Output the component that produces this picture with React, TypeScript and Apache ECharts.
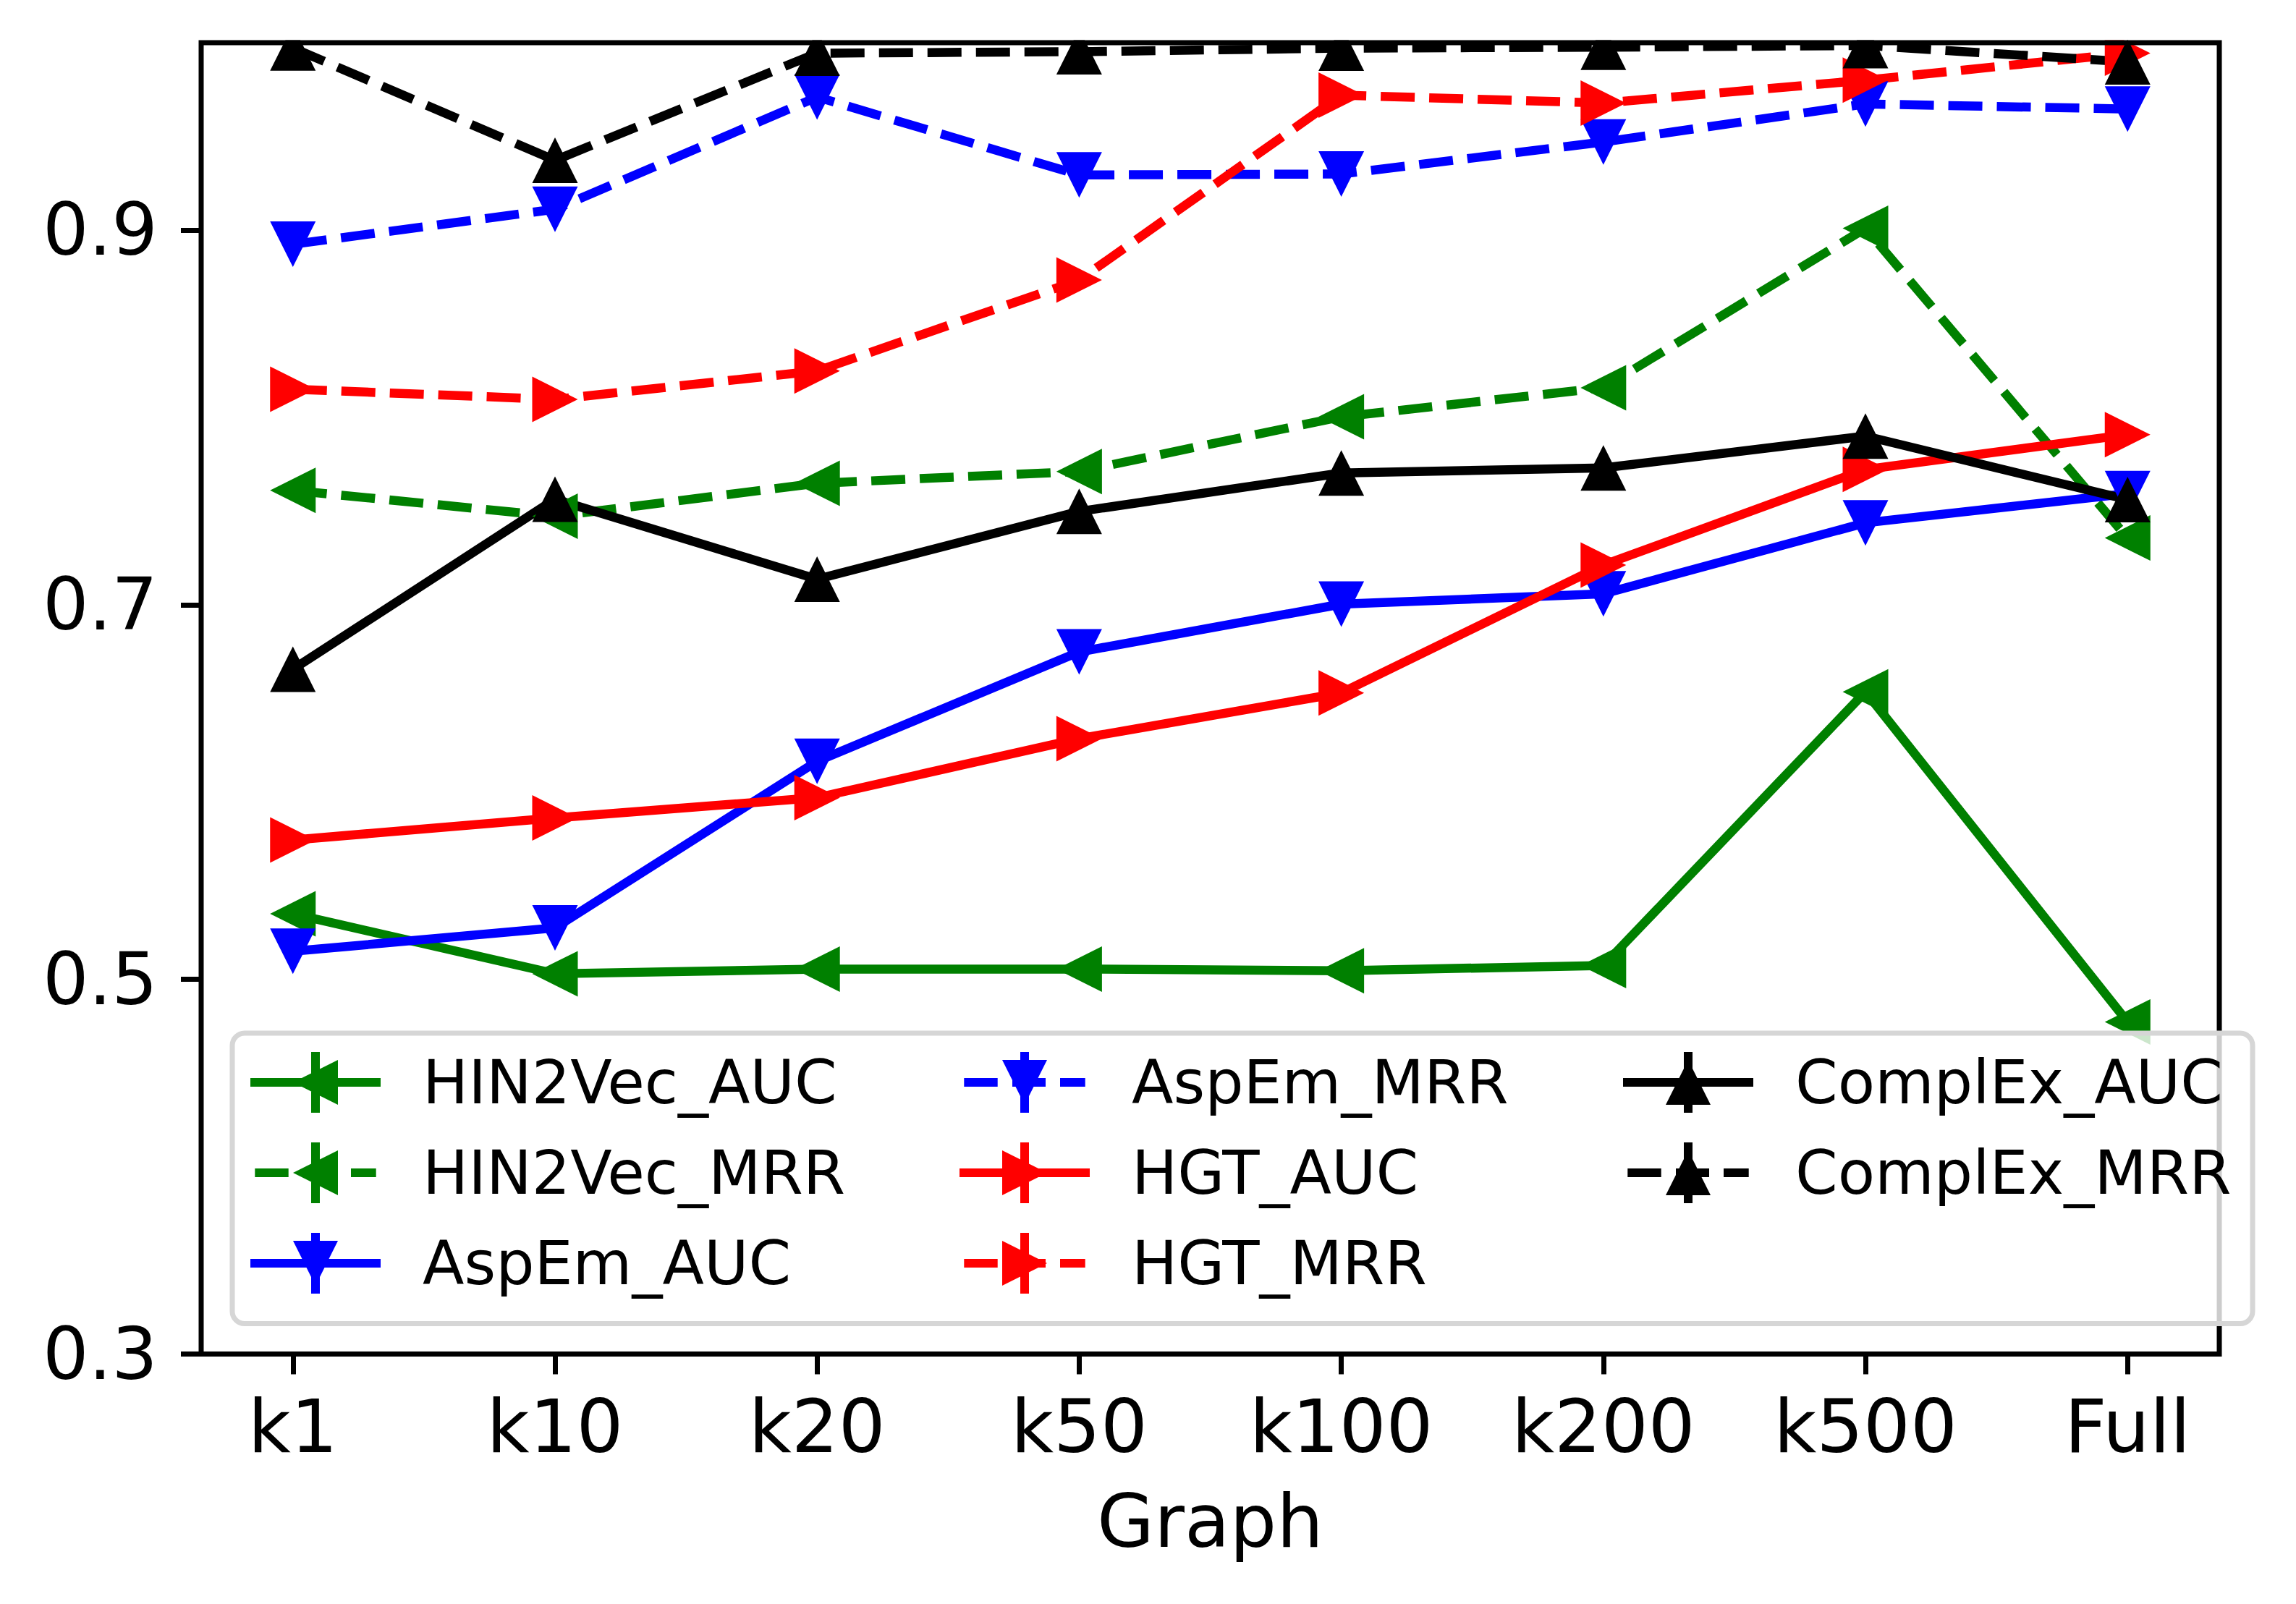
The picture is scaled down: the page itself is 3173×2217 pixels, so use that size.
import React, { useEffect, useRef } from "react";
import * as echarts from "echarts";

const categories = ["k1", "k10", "k20", "k50", "k100", "k200", "k500", "Full"];
const yTickValues = [0.3, 0.5, 0.7, 0.9];

const hin2vecAUC = [0.535, 0.503, 0.5055, 0.5055, 0.5046, 0.5074, 0.6535, 0.4773];
const hin2vecMRR = [0.761, 0.7472, 0.7648, 0.7711, 0.8003, 0.8158, 0.9009, 0.7356];
const aspemAUC = [0.515, 0.5275, 0.6164, 0.6748, 0.7003, 0.7058, 0.7437, 0.7593];
const aspemMRR = [0.8924, 0.9111, 0.971, 0.9294, 0.9299, 0.947, 0.9673, 0.9646];
const hgtAUC = [0.5744, 0.5862, 0.597, 0.6285, 0.6529, 0.7212, 0.7722, 0.7908];
const hgtMRR = [0.815, 0.8096, 0.8248, 0.8733, 0.972, 0.9678, 0.98, 0.9944];
const complexAUC = [0.6655, 0.7563, 0.7136, 0.7498, 0.7703, 0.773, 0.79, 0.7561];
const complexMRR = [0.9972, 0.9372, 0.9944, 0.9952, 0.9971, 0.9976, 0.9985, 0.9898];

const seriesMeta = [
  { name: "HIN2Vec_AUC", data: hin2vecAUC, color: "#008000", dashed: false, marker: "<" },
  { name: "HIN2Vec_MRR", data: hin2vecMRR, color: "#008000", dashed: true, marker: "<" },
  { name: "AspEm_AUC", data: aspemAUC, color: "#0000ff", dashed: false, marker: "v" },
  { name: "AspEm_MRR", data: aspemMRR, color: "#0000ff", dashed: true, marker: "v" },
  { name: "HGT_AUC", data: hgtAUC, color: "#ff0000", dashed: false, marker: ">" },
  { name: "HGT_MRR", data: hgtMRR, color: "#ff0000", dashed: true, marker: ">" },
  { name: "ComplEx_AUC", data: complexAUC, color: "#000000", dashed: false, marker: "^" },
  { name: "ComplEx_MRR", data: complexMRR, color: "#000000", dashed: true, marker: "^" },
];

const FONT = "DejaVu Sans";

const markerPaths: Record<string, string> = {
  "^": "path://M1,0L2,2L0,2Z",
  v: "path://M0,0L2,0L1,2Z",
  "<": "path://M0,1L2,0L2,2Z",
  ">": "path://M0,0L2,1L0,2Z",
};

const legendTriangles: Record<string, string> = {
  "^": "M90 11L121 73L59 73Z",
  v: "M59 11L121 11L90 73Z",
  "<": "M59 42L121 11L121 73Z",
  ">": "M59 11L121 42L59 73Z",
};

function legendIcon(marker: string, dashed: boolean): string {
  const segs = dashed
    ? [
        [6.3, 52.7],
        [73, 119],
        [139, 173.7],
      ]
    : [[0, 180]];
  let d = "";
  segs.forEach(([a, b]) => {
    d += `M${a} 36H${b}V48H${a}Z`;
  });
  d += "M84 0H96V84H84Z";
  d += legendTriangles[marker];
  return "path://" + d;
}

export default function App() {
  const ref = useRef<HTMLDivElement>(null);

  useEffect(() => {
    document.body.style.margin = "0";
    document.body.style.overflow = "hidden";
    if (!ref.current) return;
    const chart = echarts.init(ref.current, undefined, { renderer: "svg" });

    const xIdx = categories.map((_, i) => i);

    const series = seriesMeta.map((s) => ({
      type: "line",
      name: s.name,
      data: s.data.map((v, i) => [i, v]),
      symbol: markerPaths[s.marker],
      symbolSize: 63,
      showSymbol: true,
      showAllSymbol: true,
      silent: true,
      clip: false,
      itemStyle: { color: s.color, borderWidth: 0 },
      lineStyle: {
        color: s.color,
        width: 12.5,
        type: s.dashed ? [47, 20] : "solid",
        cap: "butt",
        join: "round",
      },
      emphasis: { disabled: true },
    }));

    const legendBase = {
      orient: "vertical",
      top: 1454,
      itemWidth: 180,
      itemHeight: 84,
      itemGap: 41,
      padding: 0,
      selectedMode: false,
      z: 70,
      itemStyle: { borderWidth: 0 },
      textStyle: {
        fontSize: 84,
        color: "#000",
        fontFamily: FONT,
        padding: [0, 0, 0, 53],
        lineHeight: 84,
      },
    };
    const legendItems = (names: string[]) =>
      names.map((n) => {
        const m = seriesMeta.find((s) => s.name === n)!;
        return { name: n, icon: legendIcon(m.marker, m.dashed) };
      });

    const option = {
      animation: false,
      backgroundColor: "#ffffff",
      textStyle: { fontFamily: FONT },
      grid: { left: 278, top: 59, right: 106, bottom: 345.5, show: false },
      xAxis: {
        type: "value",
        min: -0.35,
        max: 7.35,
        axisLine: { show: false, onZero: false },
        splitLine: { show: false },
        axisTick: {
          show: true,
          customValues: xIdx,
          length: 28,
          lineStyle: { color: "#000", width: 7 },
        },
        axisLabel: {
          customValues: xIdx,
          formatter: (v: number) => categories[Math.round(v)],
          fontSize: 102,
          color: "#000",
          fontFamily: FONT,
          margin: 49,
        },
        name: "Graph",
        nameLocation: "middle",
        nameGap: 180,
        nameTextStyle: { fontSize: 102, color: "#000", fontFamily: FONT },
      },
      yAxis: {
        type: "value",
        min: 0.3,
        max: 1.0,
        axisLine: { show: false, onZero: false },
        splitLine: { show: false },
        axisTick: {
          show: true,
          customValues: yTickValues,
          length: 28,
          lineStyle: { color: "#000", width: 7 },
        },
        axisLabel: {
          customValues: yTickValues,
          formatter: (v: number) => v.toFixed(1),
          fontSize: 100,
          color: "#000",
          fontFamily: FONT,
          margin: 60,
        },
      },
      legend: [
        { ...legendBase, left: 346, data: legendItems(["HIN2Vec_AUC", "HIN2Vec_MRR", "AspEm_AUC"]) },
        { ...legendBase, left: 1326, data: legendItems(["AspEm_MRR", "HGT_AUC", "HGT_MRR"]) },
        { ...legendBase, left: 2243, data: legendItems(["ComplEx_AUC", "ComplEx_MRR"]) },
      ],
      graphic: [
        {
          type: "rect",
          z: 45,
          silent: true,
          shape: { x: 0, y: 0, width: 3173, height: 55.5 },
          style: { fill: "#ffffff" },
        },
        {
          type: "rect",
          z: 50,
          silent: true,
          shape: { x: 278, y: 59, width: 2789, height: 1812.5 },
          style: { fill: "none", stroke: "#000000", lineWidth: 7 },
        },
        {
          type: "rect",
          z: 60,
          silent: true,
          shape: { x: 321, y: 1428, width: 2792, height: 401.5, r: 17 },
          style: { fill: "rgba(255,255,255,0.8)", stroke: "#d6d6d6", lineWidth: 7 },
        },
      ],
      series,
    };

    chart.setOption(option as any);
    return () => {
      chart.dispose();
    };
  }, []);

  return <div ref={ref} style={{ width: "3173px", height: "2217px" }} />;
}
